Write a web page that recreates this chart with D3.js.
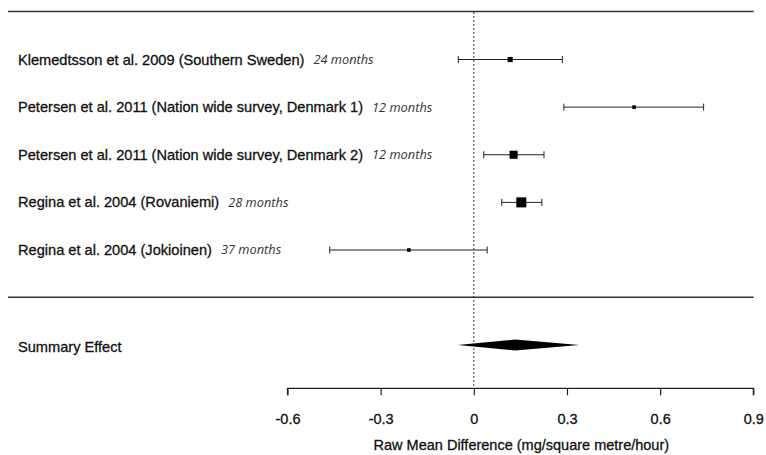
<!DOCTYPE html>
<html><head><meta charset="utf-8">
<script src="https://cdn.jsdelivr.net/npm/d3@7"></script>
<style>body{margin:0;background:#fff}svg{display:block}</style>
</head><body>
<svg id="c" width="766" height="455"></svg>
<script>
const studies = [
  "Klemedtsson et al. 2009 (Southern Sweden)",
  "Petersen et al. 2011 (Nation wide survey, Denmark 1)",
  "Petersen et al. 2011 (Nation wide survey, Denmark 2)",
  "Regina et al. 2004 (Rovaniemi)",
  "Regina et al. 2004 (Jokioinen)"
];
const durations = ["24 months","12 months","12 months","28 months","37 months"];
const estimates = [0.117, 0.516, 0.128, 0.153, -0.209];
const lowerCI   = [-0.050, 0.290, 0.032, 0.090, -0.464];
const upperCI   = [0.285, 0.740, 0.226, 0.219, 0.043];
const weights   = [12, 6, 30, 46, 6];
const summaryLabel = "Summary Effect";
const summary = {est: 0.133, lo: -0.052, hi: 0.340};
const tickValues = [-0.6, -0.3, 0, 0.3, 0.6, 0.9];
const tickLabels = ["-0.6", "-0.3", "0", "0.3", "0.6", "0.9"];
const xTitle = "Raw Mean Difference (mg/square metre/hour)";

const svg = d3.select("#c");
const x = d3.scaleLinear().domain([-0.6, 0.9]).range([287.5, 753.3]);
const y = d3.scalePoint().domain(d3.range(studies.length)).range([59.5, 250]);
const sz = d3.scaleSqrt().domain([0, d3.max(weights)]).range([0, 10]);
const ink = "#111";
const sans = "Liberation Sans, Arial, sans-serif";

function darken(sel) { return sel.attr("stroke", ink).attr("stroke-width", 0.3); }

// frame lines
svg.append("line").attr("x1", 8).attr("x2", 753.7).attr("y1", 11.5).attr("y2", 11.5)
  .attr("stroke", "#333").attr("stroke-width", 1.4);
svg.append("line").attr("x1", 8).attr("x2", 753.7).attr("y1", 297.3).attr("y2", 297.3)
  .attr("stroke", "#333").attr("stroke-width", 1.4);

// reference line at 0
svg.append("line").attr("x1", x(0)).attr("x2", x(0)).attr("y1", 12).attr("y2", 386)
  .attr("stroke", "#333").attr("stroke-width", 1).attr("stroke-dasharray", "2,2");

// study rows
const rows = svg.append("g").selectAll("g").data(studies).join("g");
rows.each(function(d, i) {
  const g = d3.select(this);
  const t = g.append("text").attr("x", 18).attr("y", y(i)).attr("dy", "0.35em")
    .attr("font-family", sans).attr("font-size", 14.6)
    .attr("fill", ink).text(d);
  darken(t);
  const w = t.node().getComputedTextLength();
  g.append("text").attr("x", 18 + w + 9).attr("y", y(i)).attr("dy", "0.35em")
    .attr("font-family", "Open Sans, sans-serif").attr("font-style", "italic")
    .attr("font-size", 12.8).attr("fill", "#333").text(durations[i]);
  g.append("line").attr("x1", x(lowerCI[i])).attr("x2", x(upperCI[i]))
    .attr("y1", y(i)).attr("y2", y(i)).attr("stroke", "#222").attr("stroke-width", 1);
  [lowerCI[i], upperCI[i]].forEach(v => {
    g.append("line").attr("x1", x(v)).attr("x2", x(v))
      .attr("y1", y(i) - 3.5).attr("y2", y(i) + 3.5).attr("stroke", "#222").attr("stroke-width", 1);
  });
  const s = Math.max(3.5, sz(weights[i]));
  g.append("rect").attr("x", x(estimates[i]) - s / 2).attr("y", y(i) - s / 2)
    .attr("width", s).attr("height", s).attr("fill", "#000");
});

// summary
const ys = 345;
darken(svg.append("text").attr("x", 18).attr("y", ys + 1.5).attr("dy", "0.35em")
  .attr("font-family", sans).attr("font-size", 14.6)
  .attr("fill", ink).text(summaryLabel));
svg.append("polygon")
  .attr("points", [[x(summary.lo), ys], [x(summary.est), ys - 5.5], [x(summary.hi), ys], [x(summary.est), ys + 5.5]].map(p => p.join(",")).join(" "))
  .attr("fill", "#000");

// axis
const axis = d3.axisBottom(x).tickValues(tickValues).tickSize(7).tickPadding(18)
  .tickFormat((d, i) => tickLabels[i]);
const ga = svg.append("g").attr("transform", "translate(0,388.3)").call(axis);
ga.select(".domain").attr("stroke", "#222").attr("stroke-width", 1.2)
  .attr("d", `M${x(-0.6)},7V0H${x(0.9)}V7`);
ga.selectAll(".tick line").attr("stroke", "#222").attr("stroke-width", 1.2);
darken(ga.selectAll(".tick text").attr("font-family", sans)
  .attr("font-size", 14.5).attr("fill", ink));
darken(svg.append("text").attr("x", x(0.153)).attr("y", 445).attr("dy", "0.35em")
  .attr("text-anchor", "middle").attr("font-family", sans)
  .attr("font-size", 14.5).attr("fill", ink).text(xTitle));
</script>
</body></html>
